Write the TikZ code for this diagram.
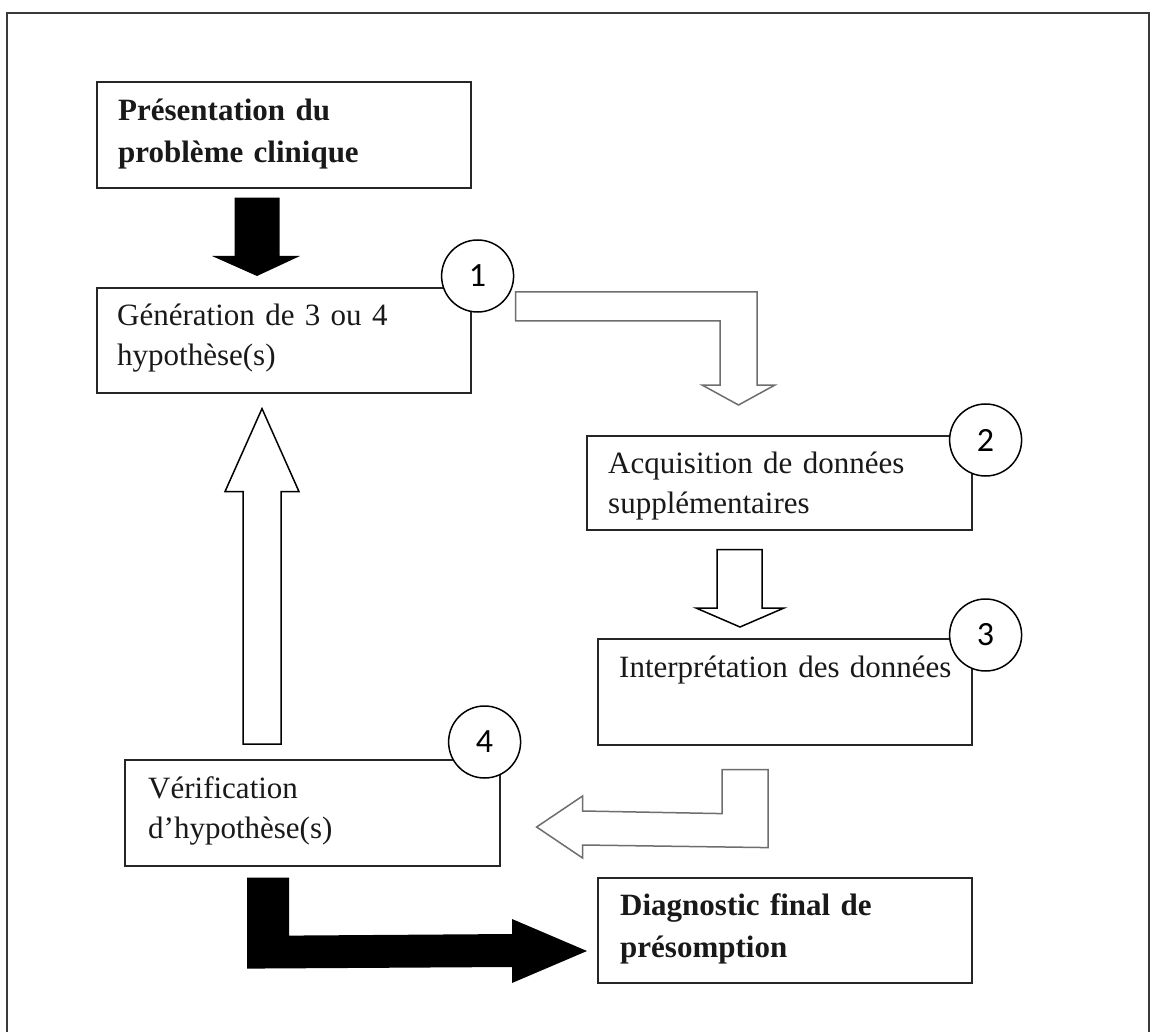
\documentclass[tikz,border=0pt]{standalone}
\usepackage{fontspec}
\setmainfont{Liberation Serif}
\newfontfamily\numfont{Carlito}
\usetikzlibrary{calc}
\definecolor{framecol}{HTML}{3A3A3A}
\definecolor{greyarrow}{HTML}{6E6E6E}
\begin{document}
\begin{tikzpicture}[x=1pt,y=-1pt,
  boxnode/.style={draw=black!85, line width=1.6pt, rectangle, inner sep=0pt, anchor=north west},
  txt/.style={anchor=base west, inner sep=0pt, text width=380pt, align=left,
              font=\fontsize{31}{40}\selectfont, text=black!90},
  btxt/.style={txt, font=\fontsize{31}{42}\selectfont\bfseries},
  numcircle/.style={draw=black, fill=white, circle, line width=1.5pt, minimum size=72pt,
              inner sep=0pt, font=\numfont\fontsize{34}{34}\selectfont},
  blockout/.style={draw=black, fill=white, line width=1.5pt, line join=miter},
  blockgrey/.style={draw=greyarrow, fill=white, line width=1.5pt, line join=miter},
  blockfill/.style={fill=black}
]
\useasboundingbox (0,0) rectangle (1154,1032);
\fill[white] (0,0) rectangle (1154,1032);
% outer frame
\draw[framecol, line width=1.8pt] (7,1040) -- (7,13) -- (1149,13) -- (1149,1040);

% boxes
\node[boxnode, minimum width=374pt, minimum height=106pt] (p) at (96,81) {};
\node[boxnode, minimum width=374pt, minimum height=105pt] (g) at (96,287) {};
\node[boxnode, minimum width=385pt, minimum height=94pt]  (a) at (586,435) {};
\node[boxnode, minimum width=374pt, minimum height=106pt] (i) at (597,638) {};
\node[boxnode, minimum width=375pt, minimum height=106pt] (v) at (124,759) {};
\node[boxnode, minimum width=374pt, minimum height=105pt] (d) at (597,877) {};

% texts
\node[btxt] (pt) at ($(p.north west)+(22,40)$) {Présentation du\\problème clinique};
\node[txt] (gt) at ($(g.north west)+(21,39)$) {Génération de 3 ou 4\\hypothèse(s)};
\node[txt] (at) at ($(a.north west)+(22,38)$) {Acquisition de données\\supplémentaires};
\node[txt] (it) at ($(i.north west)+(22,39)$) {Interprétation des données};
\node[txt] (vt) at ($(v.north west)+(24,39)$) {Vérification\\d’hypothèse(s)};
\node[btxt] (dt) at ($(d.north west)+(23,38)$) {Diagnostic final de\\présomption};

% numbered circles
\node[numcircle] (c1) at ($(g.north east)+(6,-11)$) {1};
\node[numcircle] (c2) at ($(a.north east)+(13,5)$) {2};
\node[numcircle] (c3) at ($(i.north east)+(13,-3)$) {3};
\node[numcircle] (c4) at ($(v.north east)+(-16,-17)$) {4};

% connector anchor points
\coordinate (pa) at ($(p.south west)+(161,9)$);   % top of black arrow
\coordinate (ge) at ($(g.north west)+(161,-11)$); % its tip
\coordinate (gb) at ($(g.north east)+(44,5)$);    % start of bent arrow 1->2
\coordinate (ae) at ($(a.north west)+(152.5,-30)$); % tip 1->2
\coordinate (ab) at ($(a.south west)+(131,19)$);  % top-left of arrow 2->3
\coordinate (ie) at ($(i.north west)+(143,-11)$); % tip 2->3
\coordinate (ib) at ($(i.south west)+(125,24)$);  % top-left of bent arrow 3->4
\coordinate (ve) at ($(v.north east)+(36,68)$);   % tip 3->4
\coordinate (vb) at ($(v.north west)+(119,-15)$); % bottom-left of arrow 4->1
\coordinate (gt2) at ($(g.south west)+(166,15)$); % tip 4->1
\coordinate (vd) at ($(v.south west)+(123,11)$);  % top-left of black bent arrow
\coordinate (de) at ($(d.north west)+(-10,74)$);  % tip into diagnostic

% black arrow p -> g
\fill[blockfill] ($(pa)+(-22.5,0)$) -- ($(pa)+(22.5,0)$) -- ($(ge)+(22.5,-20)$)
  -- ($(ge)+(43,-20)$) -- (ge) -- ($(ge)+(-45,-20)$) -- ($(ge)+(-22.5,-20)$) -- cycle;

% bent grey arrow g -> a
\draw[blockgrey] (gb) -- ($(ae)+(18.5,-113)$) -- ($(ae)+(18.5,-20)$) -- ($(ae)+(36.5,-20)$)
  -- (ae) -- ($(ae)+(-36.5,-20)$) -- ($(ae)+(-18.5,-20)$) -- ($(ae)+(-18.5,-84)$)
  -- ($(gb)+(0,29)$) -- cycle;

% outline arrow a -> i
\draw[blockout] (ab) -- ($(ab)+(45,0)$) -- ($(ie)+(22,-19)$) -- ($(ie)+(44,-19)$)
  -- (ie) -- ($(ie)+(-44,-19)$) -- ($(ie)+(-23,-19)$) -- cycle;

% bent grey arrow i -> v
\draw[blockgrey] (ib) -- ($(ib)+(46,0)$) -- ($(ib)+(46,78)$) -- ($(ve)+(46,18)$)
  -- ($(ve)+(46,31)$) -- (ve) -- ($(ve)+(46,-31)$) -- ($(ve)+(46,-16)$)
  -- ($(ib)+(0,44)$) -- cycle;

% outline arrow v -> g (upwards)
\draw[blockout] (vb) -- ($(vb)+(38,0)$) -- ($(gt2)+(19,83)$) -- ($(gt2)+(37,83)$)
  -- (gt2) -- ($(gt2)+(-37,83)$) -- ($(gt2)+(-19,83)$) -- cycle;

% black bent arrow v -> d
\fill[blockfill] (vd) -- ($(vd)+(42,0)$) -- ($(vd)+(42,58)$) -- ($(de)+(-75,-17)$)
  -- ($(de)+(-75,-32)$) -- (de) -- ($(de)+(-75,32)$) -- ($(de)+(-75,16)$)
  -- ($(vd)+(0,91)$) -- cycle;
\end{tikzpicture}
\end{document}
